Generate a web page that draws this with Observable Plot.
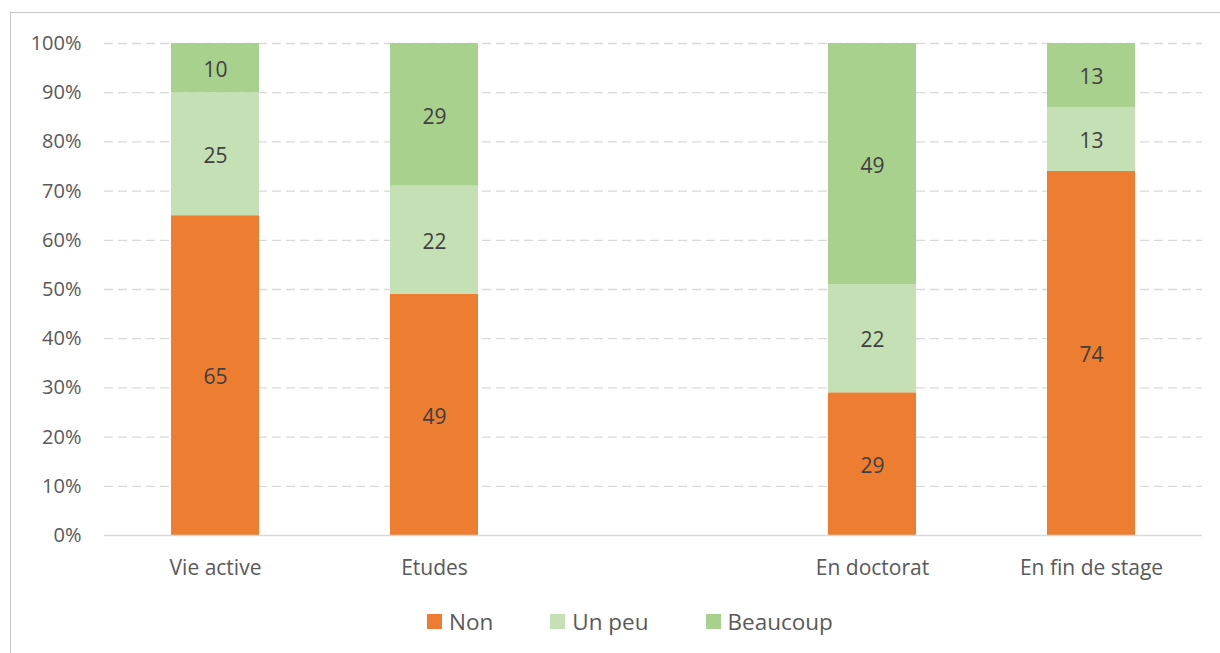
<!DOCTYPE html>
<html>
<head>
<meta charset="utf-8">
<script src="https://cdn.jsdelivr.net/npm/d3@7"></script>
<script src="https://cdn.jsdelivr.net/npm/@observablehq/plot@0.6"></script>
<style>
  html, body { margin: 0; padding: 0; background: #fff; overflow: hidden; }
  body { position: relative; width: 1220px; height: 653px; font-family: "Open Sans", sans-serif; }
  #frame { position: absolute; left: 10px; top: 12px; width: 1230px; height: 660px; border: 1px solid #c4c4c4; box-sizing: border-box; }
  #chart { position: absolute; left: 0; top: 0; }
  #legend { position: absolute; left: 427px; top: 606px; display: flex; gap: 57px; align-items: center; font-size: 22.5px; color: #595959; }
  .item { display: flex; align-items: center; gap: 7px; }
  .sw { width: 15px; height: 15px; }
</style>
</head>
<body>
<div id="frame"></div>
<div id="chart"></div>
<div id="legend"></div>
<script>
const categories = ["Vie active", "Etudes", "", "En doctorat", "En fin de stage"];
const series = ["Non", "Un peu", "Beaucoup"];
const nonValues = [65, 49, null, 29, 74];
const unPeuValues = [25, 22, null, 22, 13];
const beaucoupValues = [10, 29, null, 49, 13];
const colors = ["#ED7D31", "#C5E0B4", "#A9D18E"];
const yTicks = [0, 10, 20, 30, 40, 50, 60, 70, 80, 90, 100];

const valuesBySeries = [nonValues, unPeuValues, beaucoupValues];
const rows = [];
categories.forEach((c, i) => {
  series.forEach((s, j) => {
    const v = valuesBySeries[j][i];
    if (v != null) rows.push({category: c, series: s, value: v});
  });
});

const chart = Plot.plot({
  width: 1220,
  height: 600,
  marginLeft: 104,
  marginRight: 18,
  marginTop: 43,
  marginBottom: 65,
  style: {fontFamily: "Open Sans", color: "#595959", background: "transparent", overflow: "visible"},
  x: {domain: categories, paddingInner: 0.6, paddingOuter: 0.3, label: null},
  y: {domain: [0, 100], label: null},
  color: {domain: series, range: colors},
  marks: [
    Plot.ruleY(yTicks.filter(d => d > 0), {stroke: "#d9d9d9", strokeWidth: 1.3, strokeDasharray: "9,5"}),
    Plot.barY(rows, Plot.stackY({x: "category", y: "value", fill: "series", order: series})),
    Plot.ruleY([0], {stroke: "#d9d9d9", strokeWidth: 1.5}),
    Plot.text(rows, Plot.stackY({x: "category", y: "value", z: "series", order: series, text: d => String(d.value), fill: "#404040", fontSize: 21, dy: 2})),
    Plot.axisY({ticks: yTicks, tickFormat: d => d + "%", tickSize: 0, tickPadding: 23, fontSize: 20, label: null}),
    Plot.axisX({tickSize: 0, tickPadding: 25, fontSize: 21, label: null})
  ]
});
document.getElementById("chart").appendChild(chart);

const legend = document.getElementById("legend");
series.forEach((s, i) => {
  const item = document.createElement("div");
  item.className = "item";
  const sw = document.createElement("div");
  sw.className = "sw";
  sw.style.background = colors[i];
  const t = document.createElement("span");
  t.textContent = s;
  item.appendChild(sw);
  item.appendChild(t);
  legend.appendChild(item);
});
</script>
</body>
</html>
